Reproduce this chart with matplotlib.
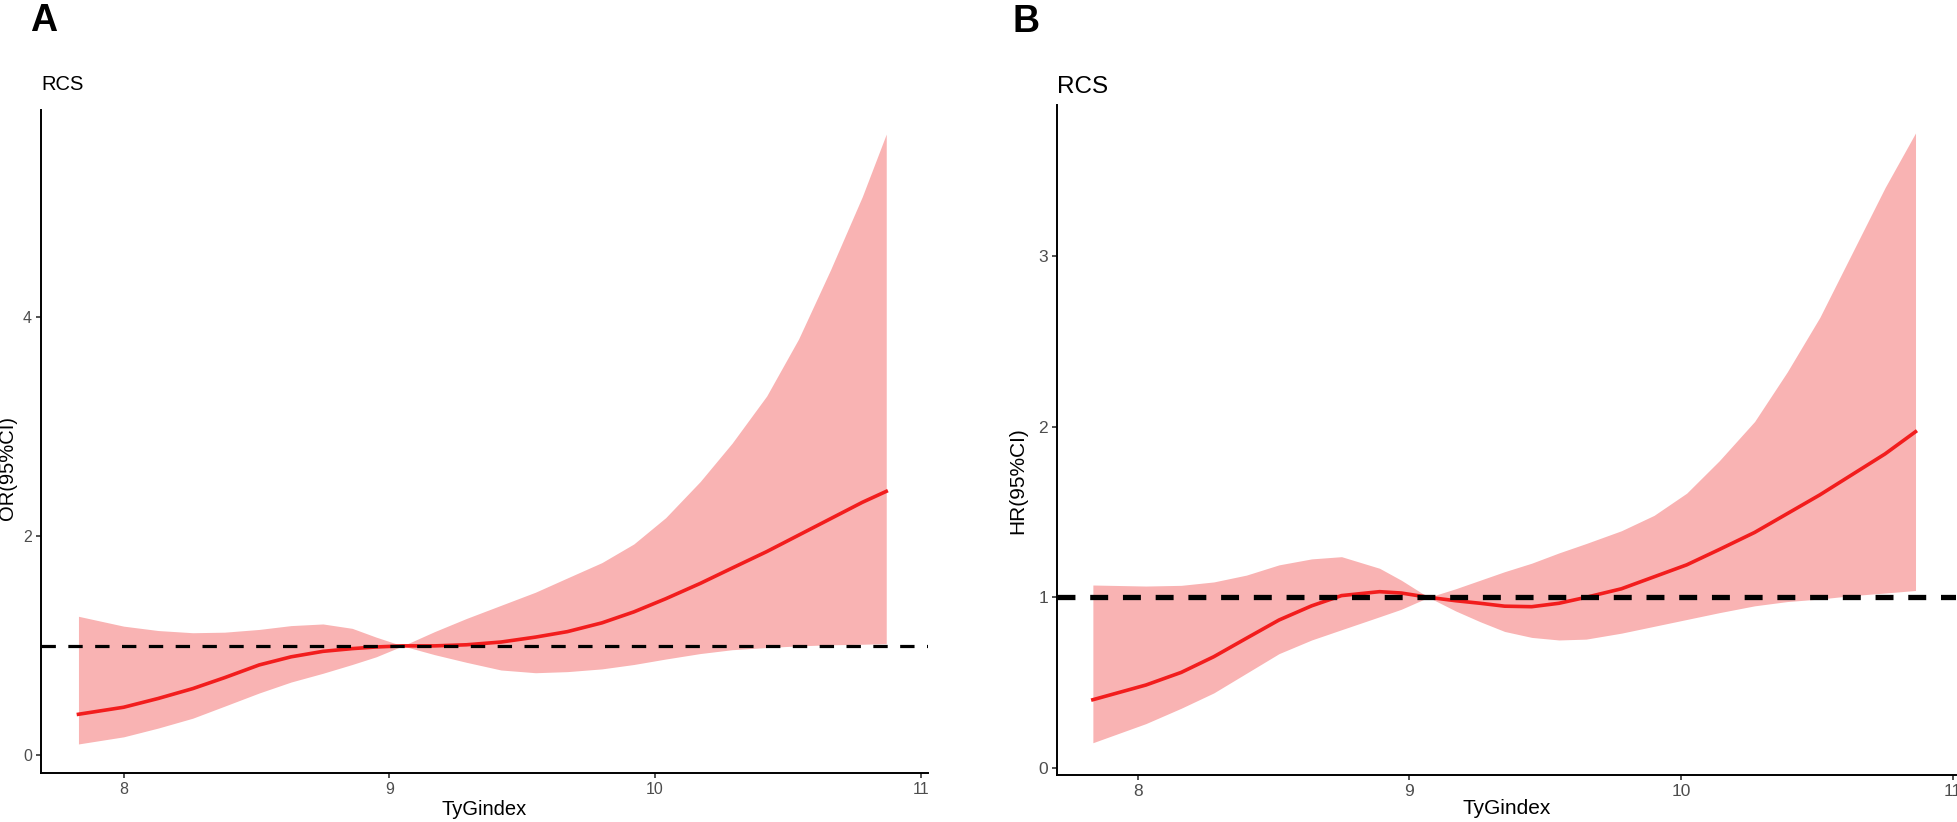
import matplotlib
matplotlib.use("Agg")
import matplotlib.pyplot as plt

plt.rcParams['font.family'] = ['Liberation Sans', 'DejaVu Sans']

# panel A (OR)
xa = [7.83, 8.0, 8.13, 8.26, 8.38, 8.51, 8.63, 8.75, 8.86, 8.95, 9.05, 9.17, 9.29,
      9.42, 9.55, 9.67, 9.80, 9.92, 10.04, 10.17, 10.29, 10.42, 10.54, 10.66, 10.78, 10.87]
or_est = [0.376, 0.44, 0.52, 0.61, 0.71, 0.826, 0.90, 0.95, 0.975, 0.99, 1.0, 1.0, 1.01,
          1.035, 1.08, 1.13, 1.21, 1.31, 1.43, 1.57, 1.71, 1.86, 2.01, 2.16, 2.31, 2.41]
or_lo = [0.105, 0.17, 0.25, 0.34, 0.45, 0.57, 0.67, 0.75, 0.83, 0.90, 1.0, 0.92, 0.85,
         0.78, 0.755, 0.765, 0.79, 0.83, 0.88, 0.93, 0.965, 0.985, 1.0, 1.01, 1.015, 1.02]
or_hi = [1.27, 1.18, 1.14, 1.12, 1.125, 1.15, 1.185, 1.20, 1.16, 1.08, 1.0, 1.13, 1.25,
         1.37, 1.49, 1.62, 1.76, 1.93, 2.17, 2.50, 2.85, 3.28, 3.80, 4.43, 5.10, 5.67]

# panel B (HR)
xb = [7.835, 8.03, 8.16, 8.28, 8.40, 8.52, 8.64, 8.75, 8.89, 8.97, 9.07, 9.17, 9.26, 9.35,
      9.45, 9.55, 9.65, 9.78, 9.90, 10.02, 10.14, 10.27, 10.39, 10.51, 10.63, 10.75, 10.862]
hr_est = [0.40, 0.486, 0.56, 0.652, 0.76, 0.867, 0.95, 1.01, 1.033, 1.025, 1.0, 0.98, 0.965,
          0.948, 0.945, 0.965, 1.0, 1.05, 1.12, 1.19, 1.28, 1.38, 1.49, 1.60, 1.72, 1.84, 1.97]
hr_lo = [0.148, 0.26, 0.35, 0.44, 0.555, 0.67, 0.75, 0.81, 0.886, 0.93, 1.0, 0.92, 0.857,
         0.80, 0.765, 0.75, 0.755, 0.79, 0.83, 0.87, 0.91, 0.95, 0.975, 0.99, 1.01, 1.025, 1.04]
hr_hi = [1.072, 1.066, 1.07, 1.09, 1.13, 1.19, 1.225, 1.238, 1.17, 1.10, 1.0, 1.05, 1.10,
         1.15, 1.20, 1.26, 1.315, 1.39, 1.48, 1.61, 1.80, 2.03, 2.32, 2.64, 3.02, 3.40, 3.72]

xticks = [8, 9, 10, 11]
band_col = '#F9B3B3'
line_col = '#F21D1D'
W, H = 1958, 822

fig = plt.figure(figsize=(W / 100, H / 100), dpi=100)


def panel(rect, x, est, lo, hi, yticks, xlim, ylim, ylab, fs, tfs, rfs, dash_lw, dashes,
          ylab_xy, xlab_y, rcs_y):
    ax = fig.add_axes(rect)
    ax.fill_between(x, lo, hi, color=band_col, lw=0)
    ax.plot(x, est, color=line_col, lw=2.6, solid_joinstyle='round')
    ax.axhline(1, color='black', lw=dash_lw, dashes=dashes)
    ax.set_xlim(*xlim)
    ax.set_ylim(*ylim)
    ax.set_xticks(xticks)
    ax.set_yticks(yticks)
    for s in ['top', 'right']:
        ax.spines[s].set_visible(False)
    for s in ['left', 'bottom']:
        ax.spines[s].set_linewidth(1.4)
    ax.tick_params(length=3.5, width=1.2, color='#333333', labelcolor='#4D4D4D',
                   labelsize=tfs, pad=3)
    ax.set_xlabel('TyGindex', fontsize=fs)
    ax.set_ylabel(ylab, fontsize=fs)
    ax.yaxis.set_label_coords(*ylab_xy)
    ax.xaxis.set_label_coords(0.5, xlab_y)
    ax.text(0.0, rcs_y, 'RCS', transform=ax.transAxes, fontsize=rfs,
            ha='left', va='baseline')
    return ax


axA = panel([41 / W, 1 - 773 / H, (927.7 - 41) / W, (773 - 110) / H],
            xa, or_est, or_lo, or_hi, [0, 2, 4], (7.689, 11.026), (-0.16, 5.89),
            'OR(95%CI)', 14.5, 11.5, 14.5, 2.3, (4.5, 3.9), (-0.027, 0.46), -0.04, 1.03)

axB = panel([1057 / W, 1 - 775 / H, (1956 - 1057) / W, (775 - 105) / H],
            xb, hr_est, hr_lo, hr_hi, [0, 1, 2, 3], (7.703, 11.011), (-0.041, 3.884),
            'HR(95%CI)', 15, 12.5, 17.5, 3.8, (3.4, 2.8), (-0.033, 0.44), -0.036, 1.018)

fig.text(30 / W, 1 - 31 / H, 'A', fontsize=27, fontweight='bold', ha='left', va='baseline')
fig.text(1013 / W, 1 - 32 / H, 'B', fontsize=27, fontweight='bold', ha='left', va='baseline')

fig.savefig('out.png', dpi=100)
